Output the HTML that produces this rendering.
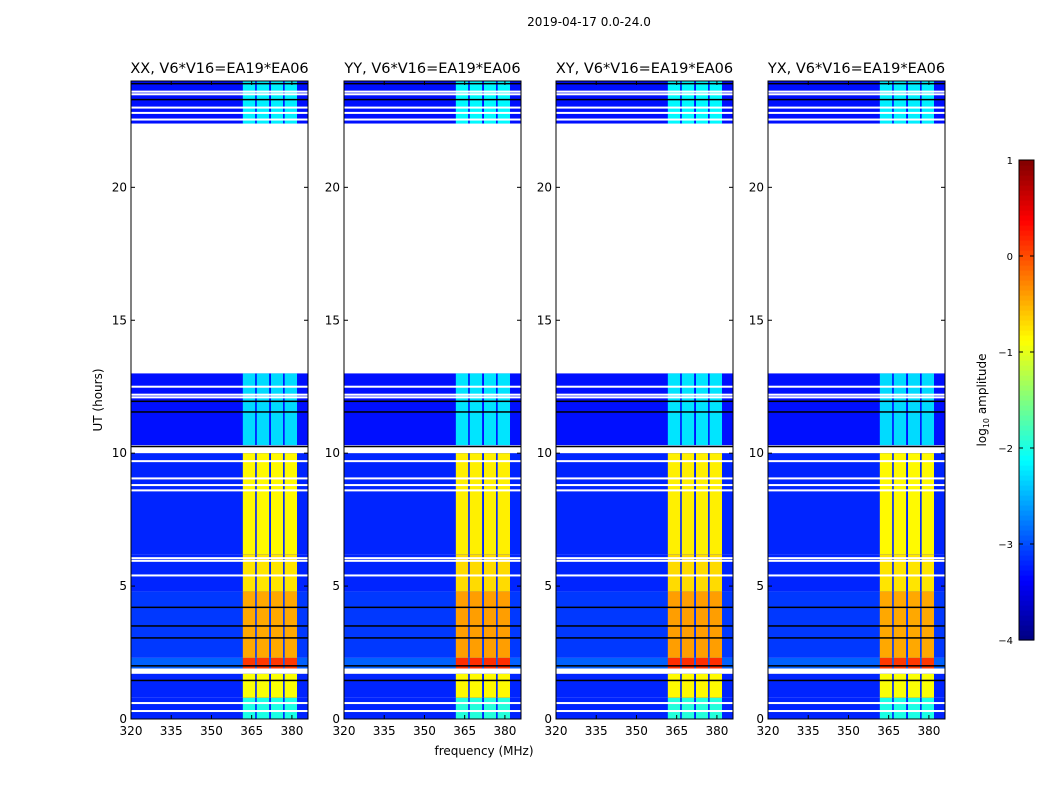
<!DOCTYPE html>
<html><head><meta charset="utf-8"><style>
body{margin:0;background:#fff;font-family:"DejaVu Sans","Liberation Sans",sans-serif}
svg text{font-family:"DejaVu Sans","Liberation Sans",sans-serif}
</style></head><body>
<svg id="fig" width="1050" height="800" viewBox="0 0 1050 800">
<text x="589" y="26" font-size="12" text-anchor="middle">2019-04-17 0.0-24.0</text>
<g id="panels"></g>
<text x="484" y="755" font-size="12" text-anchor="middle">frequency (MHz)</text>
<text transform="translate(102,400) rotate(-90)" font-size="12" text-anchor="middle">UT (hours)</text>
<g id="cbar"></g>
<text transform="translate(986,400) rotate(-90)" font-size="12" text-anchor="middle">log<tspan font-size="8" dy="3">10</tspan><tspan dy="-3"> amplitude</tspan></text>
</svg>
<script>
const panelTitles=["XX, V6*V16=EA19*EA06","YY, V6*V16=EA19*EA06","XY, V6*V16=EA19*EA06","YX, V6*V16=EA19*EA06"];
const panelLeft=[131,344,556,768];
const xTicks=[320,335,350,365,380];
const yTicks=[0,5,10,15,20];
// time blocks: start hour, end hour, base level, band level (log10 amp)
const blockStart=[0,0.8,1.9,2.3,4.8,6.2,10.3,22.4];
const blockEnd=[0.8,1.7,2.3,4.8,6.2,10.0,13.0,24];
const baseLevel=[-3.2,-3.2,-2.9,-3.1,-3.2,-3.2,-3.3,-3.3];
const bandLevel=[-2.0,-0.9,0.1,-0.45,-0.75,-0.85,-2.3,-2.2];
// per-panel band level offsets
const panelOffset=[0,0.05,0.05,0];
// band sub-channels (MHz)
const subStart=[361.7,366.9,372.2,377.3];
const subEnd=[366.3,371.5,376.7,381.9];
// flagged (white) and dark lines
const whiteLines=[0.3,0.6,1.75,1.8,5.4,5.95,6.05,8.6,8.8,9.05,9.7,10.1,10.15,12.1,12.2,12.5,22.55,22.8,23.0,23.5,23.6];
const blackLines=[1.45,2.0,3.05,3.5,4.2,11.55,11.95,10.25,23.3,23.9];
const X0=320,X1=386,Y0=0,Y1=24,W=177,TOP=81,BOT=719;
const NS="http://www.w3.org/2000/svg";
function jet(v){let t=(v+4)/5;t=Math.max(0,Math.min(1,t));
 const r=Math.min(1,Math.max(0,1.5-Math.abs(4*t-3))),g=Math.min(1,Math.max(0,1.5-Math.abs(4*t-2))),b=Math.min(1,Math.max(0,1.5-Math.abs(4*t-1)));
 return `rgb(${Math.round(r*255)},${Math.round(g*255)},${Math.round(b*255)})`;}
function mk(tag,attrs,parent){const e=document.createElementNS(NS,tag);for(const k in attrs)e.setAttribute(k,attrs[k]);parent.appendChild(e);return e;}
const root=document.getElementById('panels');
panelTitles.forEach((title,p)=>{
 const L=panelLeft[p];
 const xs=f=>L+(f-X0)/(X1-X0)*W;
 const ys=h=>BOT-(h-Y0)/(Y1-Y0)*(BOT-TOP);
 const g=mk('g',{},root);
 
 
 blockStart.forEach((s,i)=>{
  const r=mk('rect',{x:L,y:ys(blockEnd[i]),width:W,height:ys(s)-ys(blockEnd[i]),fill:jet(baseLevel[i])},g);
  
  
  subStart.forEach((f,j)=>{
   const c=mk('rect',{x:xs(f),y:ys(blockEnd[i]),width:xs(subEnd[j])-xs(f),height:ys(s)-ys(blockEnd[i]),fill:jet(bandLevel[i]+panelOffset[p])},g);
   
   
  });
 });
 whiteLines.forEach(h=>{const l=mk('rect',{x:L,y:ys(h)-1,width:W,height:2,fill:'#fff'},g);
  
  });
 blackLines.forEach(h=>{const l=mk('rect',{x:L,y:ys(h)-0.75,width:W,height:1.5,fill:'#000'},g);
  
  });
 const fr=mk('rect',{x:L,y:TOP,width:W,height:BOT-TOP,fill:'none',stroke:'#000','stroke-width':1},g);
 
 
 const t=mk('text',{x:L+W/2,y:73,'font-size':14.5,'text-anchor':'middle'},g);t.textContent=title;
 
 
 xTicks.forEach(v=>{const x=xs(v);mk('line',{x1:x,x2:x,y1:BOT,y2:BOT-4,stroke:'#000'},g);mk('line',{x1:x,x2:x,y1:TOP,y2:TOP+4,stroke:'#000'},g);
  const tt=mk('text',{x:x,y:BOT+16,'font-size':12,'text-anchor':'middle'},g);tt.textContent=v;
  
  });
 yTicks.forEach(v=>{const y=ys(v);mk('line',{x1:L,x2:L+4,y1:y,y2:y,stroke:'#000'},g);mk('line',{x1:L+W,x2:L+W-4,y1:y,y2:y,stroke:'#000'},g);
  const tt=mk('text',{x:L-4,y:y+4,'font-size':12,'text-anchor':'end'},g);tt.textContent=v;
  
  });
});
// colorbar
const cb=document.getElementById('cbar');
const cbTicks=[-4,-3,-2,-1,0,1];
const CT=160,CB=640,CX=1019,CW=15;
for(let i=0;i<96;i++){const v=-4+5*(i+0.5)/96;const y=CB-(i+1)*(CB-CT)/96;
 const r=mk('rect',{x:CX,y:y,width:CW,height:(CB-CT)/96+0.6,fill:jet(v)},cb);
 
 }
mk('rect',{x:CX,y:CT,width:CW,height:CB-CT,fill:'none',stroke:'#000'},cb);
cbTicks.forEach(v=>{const y=CB-(v+4)/5*(CB-CT);
 mk('line',{x1:CX,x2:CX+4,y1:y,y2:y,stroke:'#000'},cb);mk('line',{x1:CX+CW,x2:CX+CW-4,y1:y,y2:y,stroke:'#000'},cb);
 const t=mk('text',{x:CX-6,y:y+4,'font-size':10,'text-anchor':'end'},cb);t.textContent=(v<0?'\u2212'+(-v):v);
 
 });
</script>
</body></html>
